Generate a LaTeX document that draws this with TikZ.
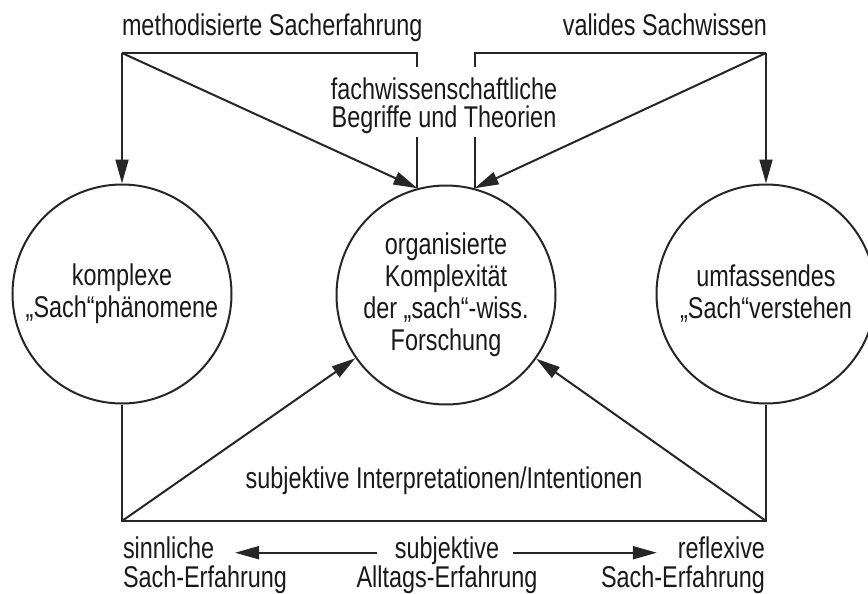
\documentclass[tikz,border=0pt]{standalone}
\usepackage{fontspec}
\setmainfont{Liberation Sans}[FakeStretch=0.78]
\usetikzlibrary{arrows.meta}

\tikzset{
    arr/.style={-{Triangle[length=12pt,width=6.5pt]}},
    kreis/.style={draw,circle,minimum size=109.5pt,inner sep=0pt,align=center},
    txt/.style={inner sep=0pt}
}

\begin{document}
\begin{tikzpicture}[x=0.5pt,y={(0pt,-0.5pt)},line width=1pt,draw=black!85,text=black!90,
        font=\fontsize{15}{16}\selectfont]
        \useasboundingbox (0,0) rectangle (868,594);

        \node[kreis] (phaen) at (122,294) {komplexe\\„Sach“phänomene};
        \node[kreis] (forsch) at (446,295) {organisierte\\Komplexität\\der „sach“-wiss.\\Forschung};
        \node[kreis] (verst) at (766,294) {umfassendes\\„Sach“verstehen};

        \coordinate (tl) at (122,53);
        \coordinate (tr) at (766,53);
        \coordinate (bl) at (122,521);
        \coordinate (br) at (766,521);

        \node[txt,anchor=base west] (meth) at (121,35) {methodisierte Sacherfahrung};
        \node[txt,anchor=base east] (valid) at (768,35) {valides Sachwissen};
        \node[txt,align=center,font=\fontsize{15}{14}\selectfont] (fach) at (444,106) {fachwissenschaftliche\\Begriffe und Theorien};
        \node[txt,anchor=base] (interp) at (444,488) {subjektive Interpretationen/Intentionen};

        \node[txt,anchor=base west] (sinn) at (122,558) {sinnliche};
        \node[txt,anchor=base west] (sinnb) at (122,587) {Sach-Erfahrung};
        \node[txt,anchor=base] (subj) at (447,558) {subjektive};
        \node[txt,anchor=base] (allt) at (447,587) {Alltags-Erfahrung};
        \node[txt,anchor=base east] (refl) at (766,558) {reflexive};
        \node[txt,anchor=base east] (reflb) at (766,587) {Sach-Erfahrung};

        \draw (tl) -| ([yshift=5pt]fach.north -| forsch.105);
        \draw ([yshift=-1pt]fach.south -| forsch.105) -- (forsch.105);
        \draw (tr) -| ([yshift=5pt]fach.north -| forsch.75);
        \draw ([yshift=-1pt]fach.south -| forsch.75) -- (forsch.75);

        \draw[arr] (tl) -- (phaen);
        \draw[arr] (tl) -- (forsch.105);
        \draw[arr] (tr) -- (forsch.75);
        \draw[arr] (tr) -- (verst);

        \draw (phaen) -- (bl) -- (br) -- (verst);
        \draw[arr] (bl) -- (forsch);
        \draw[arr] (br) -- (forsch);

        \draw[arr,shorten <=8.5pt,shorten >=10pt] (subj.mid west) -- (sinn.mid east);
        \draw[arr,shorten <=6.5pt,shorten >=10pt] (subj.mid east) -- (refl.mid west);
    \end{tikzpicture}
\end{document}
